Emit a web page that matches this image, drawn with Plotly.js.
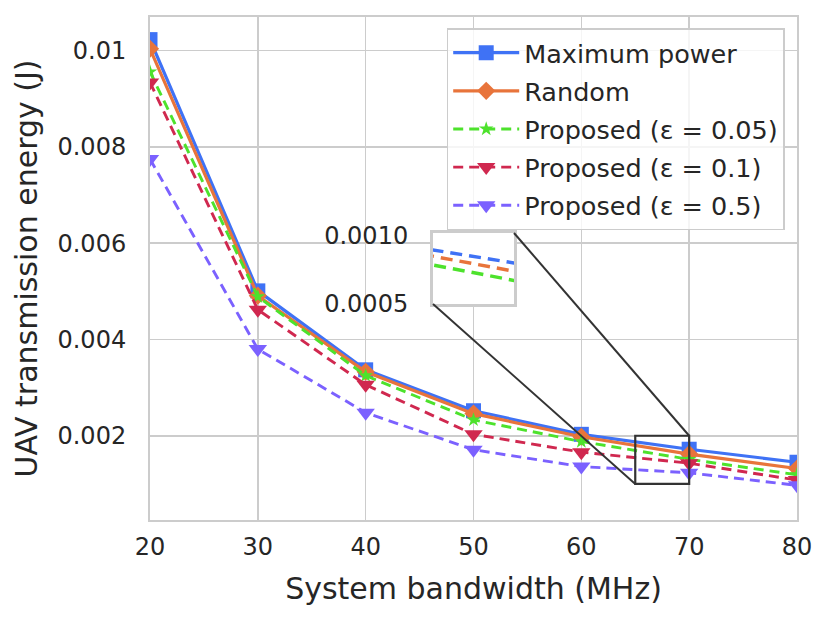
<!DOCTYPE html>
<html>
<head>
<meta charset="utf-8">
<script src="https://cdn.plot.ly/plotly-3.0.1.min.js"></script>
<style>html,body{margin:0;padding:0;background:#fff;} #chart{width:830px;height:623px;}</style>
</head>
<body>
<div id="chart"></div>
<script>
// ---- data ----
const bandwidth = [20, 30, 40, 50, 60, 70, 80];
const maxPower  = [0.01023, 0.00501, 0.00337, 0.00252, 0.00203, 0.00172, 0.00145];
const randomP   = [0.01004, 0.00491, 0.00333, 0.00246, 0.00198, 0.00162, 0.00132];
const prop005   = [0.00956, 0.00489, 0.00325, 0.00233, 0.00188, 0.00151, 0.00119];
const prop01    = [0.00934, 0.00462, 0.00306, 0.00203, 0.00166, 0.00143, 0.00108];
const prop05    = [0.00775, 0.00380, 0.00248, 0.00171, 0.00136, 0.00123, 0.00097];
const seriesNames = ['Maximum power', 'Random', 'Proposed (ε = 0.05)', 'Proposed (ε = 0.1)', 'Proposed (ε = 0.5)'];
const insetTickText = ['0.0010', '0.0005'];

// ---- styles ----
const colors = ['#3f72f5', '#e8743b', '#4de22c', '#d0284f', '#7b61ff'];
const symbols = ['square', 'diamond', 'star', 'triangle-down', 'triangle-down'];
const msizes = [15, 14, 11, 16, 16];
const dashes = ['solid', 'solid', '10px,6px', '10px,6px', '10px,6px'];
const widths = [3.2, 3.2, 2.9, 2.9, 2.9];
const allSeries = [maxPower, randomP, prop005, prop01, prop05];

const xRange = [20, 80];
const yRange = [0.00025, 0.0107];
const insetX = [65, 70];
const insetY = [0.001228, 0.002078];
const insetDomX = [0.4374, 0.5626];
const insetDomY = [0.4294, 0.5706];

const txt = '#262626';
const font = 'DejaVu Sans, sans-serif';

const traces = [];
allSeries.forEach((s, i) => {
  traces.push({
    x: bandwidth, y: s, name: seriesNames[i], type: 'scatter', mode: 'lines+markers',
    line: {color: colors[i], width: widths[i], dash: dashes[i]},
    marker: {symbol: symbols[i], size: msizes[i], color: colors[i], line: {width: 0}},
    legendgroup: 'g' + i, xaxis: 'x', yaxis: 'y'
  });
});
// inset traces (first three series, dashed)
[0, 1, 2].forEach(i => {
  traces.push({
    x: bandwidth, y: allSeries[i], type: 'scatter', mode: 'lines', showlegend: false,
    line: {color: colors[i], width: 3.5, dash: '12px,7px'},
    xaxis: 'x2', yaxis: 'y2', hoverinfo: 'skip'
  });
});

function toPaperX(v) { return (v - xRange[0]) / (xRange[1] - xRange[0]); }
function toPaperY(v) { return (v - yRange[0]) / (yRange[1] - yRange[0]); }

const shapes = [
  // zoom box on main axes
  {type: 'rect', xref: 'x', yref: 'y', x0: insetX[0], x1: insetX[1], y0: 0.001, y1: 0.002,
   line: {color: '#333333', width: 2.2}, fillcolor: 'rgba(0,0,0,0)'},
  // connectors
  {type: 'line', xref: 'paper', yref: 'paper', x0: insetDomX[0], y0: insetDomY[0],
   x1: toPaperX(insetX[0]), y1: toPaperY(0.001), line: {color: '#333333', width: 2}},
  {type: 'line', xref: 'paper', yref: 'paper', x0: insetDomX[1], y0: insetDomY[1],
   x1: toPaperX(insetX[1]), y1: toPaperY(0.002), line: {color: '#333333', width: 2}}
];

const layout = {
  width: 830, height: 623,
  margin: {l: 150, r: 33, t: 17, b: 103},
  paper_bgcolor: '#ffffff', plot_bgcolor: '#ffffff',
  font: {family: font, color: txt, size: 24},
  showlegend: true,
  xaxis: {
    range: xRange, tick0: 20, dtick: 10, showgrid: true, gridcolor: '#cccccc', gridwidth: 1.6,
    showline: true, mirror: true, linecolor: '#cccccc', linewidth: 2, zeroline: false,
    ticks: 'outside', ticklen: 4, tickcolor: 'rgba(0,0,0,0)',
    tickfont: {family: font, size: 24, color: txt},
    title: {text: 'System bandwidth (MHz)', font: {family: font, size: 30, color: txt}, standoff: 18}
  },
  yaxis: {
    range: yRange, tick0: 0, dtick: 0.002, showgrid: true, gridcolor: '#cccccc', gridwidth: 1.6,
    showline: true, mirror: true, linecolor: '#cccccc', linewidth: 2, zeroline: false,
    ticks: 'outside', ticklen: 17, tickcolor: 'rgba(0,0,0,0)',
    tickfont: {family: font, size: 24, color: txt},
    title: {text: 'UAV transmission energy (J)', font: {family: font, size: 30, color: txt}, standoff: 11}
  },
  xaxis2: {
    domain: insetDomX, anchor: 'y2', range: insetX, showgrid: false, zeroline: false,
    showticklabels: false, ticks: '', showline: true, mirror: true, linecolor: '#cccccc', linewidth: 3
  },
  yaxis2: {
    domain: insetDomY, anchor: 'x2', range: insetY, showgrid: false, zeroline: false,
    tickmode: 'array', tickvals: [insetY[1] - 0.00003, insetY[0]],
    ticktext: insetTickText, ticks: 'outside', ticklen: 17, tickcolor: 'rgba(0,0,0,0)',
    tickfont: {family: font, size: 24, color: txt},
    showline: true, mirror: true, linecolor: '#cccccc', linewidth: 3
  },
  legend: {
    x: 0.981, y: 0.978, xanchor: 'right', yanchor: 'top',
    bgcolor: 'rgba(255,255,255,0.8)', bordercolor: '#cccccc', borderwidth: 1.5,
    font: {family: font, size: 25.5, color: txt},
    tracegroupgap: 2, itemwidth: 66
  },
  shapes: shapes
};

Plotly.newPlot('chart', traces, layout, {displayModeBar: false, staticPlot: true});
</script>
</body>
</html>
